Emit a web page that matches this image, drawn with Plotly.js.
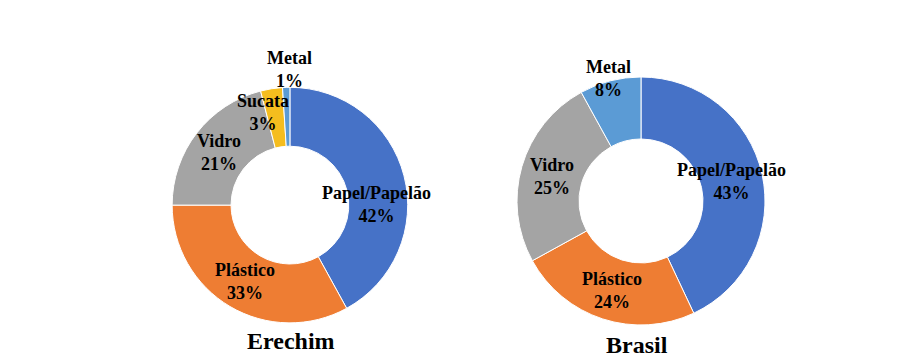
<!DOCTYPE html>
<html>
<head>
<meta charset="utf-8">
<script src="https://cdn.plot.ly/plotly-3.0.1.min.js"></script>
<style>html,body{margin:0;padding:0;background:#fff;overflow:hidden;}#chart{width:906px;height:363px;}</style>
</head>
<body>
<div id="chart"></div>
<script>
// Data
const erechimLabels = ['Papel/Papelão', 'Plástico', 'Vidro', 'Sucata', 'Metal'];
const erechimValues = [42, 33, 21, 3, 1];
const brasilLabels = ['Papel/Papelão', 'Plástico', 'Vidro', 'Metal'];
const brasilValues = [43, 24, 25, 8];
const chartTitles = ['Erechim', 'Brasil'];

// Styles
const colorMap = {
  'Papel/Papelão': '#4672C7',
  'Plástico': '#EE7D33',
  'Vidro': '#A4A4A4',
  'Sucata': '#F5BD1E',
  'Metal': '#5B9BD5'
};
const W = 906, H = 363;
// label anchor positions in pixels (layout only)
const erechimLabelPos = [[376, 204], [245, 281], [219, 152], [263, 113], [289, 69]];
const brasilLabelPos = [[731, 182], [612, 290], [552, 176], [608, 79]];
const titlePos = [[291, 341], [637, 345]];

const FONT_FAMILY = 'Liberation Serif';

function pieTrace(labels, values, xd, yd) {
  return {
    type: 'pie', labels: labels, values: values, hole: 0.5, sort: false,
    direction: 'clockwise', rotation: 0, textinfo: 'none', showlegend: false,
    domain: {x: xd, y: yd},
    marker: {colors: labels.map(l => colorMap[l]), line: {color: '#ffffff', width: 1}},
    hoverinfo: 'label+percent'
  };
}

function labelAnns(labels, values, pos) {
  const total = values.reduce((a, b) => a + b, 0);
  return labels.map((l, i) => ({
    xref: 'paper', yref: 'paper', x: pos[i][0] / W, y: 1 - pos[i][1] / H,
    xanchor: 'center', yanchor: 'middle', showarrow: false, align: 'center',
    text: '<b>' + l + '<br>' + Math.round(values[i] / total * 100) + '%</b>',
    font: {family: FONT_FAMILY, size: 18, color: '#000'}
  }));
}

const data = [
  pieTrace(erechimLabels, erechimValues, [0.190, 0.450], [0.110, 0.760]),
  pieTrace(brasilLabels, brasilValues, [0.5706, 0.8444], [0.1047, 0.7879])
];

const annotations = [].concat(
  labelAnns(erechimLabels, erechimValues, erechimLabelPos),
  labelAnns(brasilLabels, brasilValues, brasilLabelPos),
  chartTitles.map((t, i) => ({
    xref: 'paper', yref: 'paper', x: titlePos[i][0] / W, y: 1 - titlePos[i][1] / H,
    xanchor: 'center', yanchor: 'middle', showarrow: false,
    text: '<b>' + t + '</b>', font: {family: FONT_FAMILY, size: 24, color: '#000'}
  }))
);

const layout = {
  width: W, height: H, margin: {l: 0, r: 0, t: 0, b: 0},
  paper_bgcolor: '#fff', plot_bgcolor: '#fff', showlegend: false,
  font: {family: FONT_FAMILY},
  annotations: annotations
};

Plotly.newPlot('chart', data, layout, {displayModeBar: false, staticPlot: true});
</script>
</body>
</html>
